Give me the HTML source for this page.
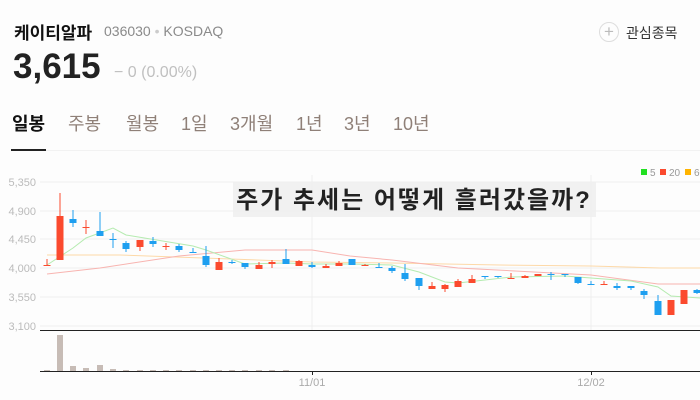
<!DOCTYPE html>
<html><head><meta charset="utf-8"><style>
body{margin:0;width:700px;height:400px;background:#fdfdfd;overflow:hidden;font-family:"Liberation Sans","Noto Sans CJK KR",sans-serif;position:relative}
.a{position:absolute;white-space:nowrap}
.t{position:absolute;top:110px;font-size:18px;color:#8f8078;white-space:nowrap}
</style></head><body>
<div class="a" style="left:14px;top:19px;font-size:17px;font-weight:bold;color:#111">케이티알파</div>
<div class="a" style="left:104px;top:23px;font-size:14px;color:#8a8a8a">036030 <span style="color:#ccc">•</span> KOSDAQ</div>
<div class="a" style="left:13px;top:47px;font-size:35px;font-weight:bold;color:#222">3,615</div>
<div class="a" style="left:114px;top:64px;font-size:16px;color:#c0c0c0">− 0 (0.00%)</div>
<div class="a" style="left:599px;top:22px;width:18px;height:18px;border:1px solid #ddd;border-radius:50%;text-align:center;line-height:18px;color:#bbb;font-size:17px">+</div>
<div class="a" style="left:626px;top:23px;font-size:14px;color:#333">관심종목</div>
<div class="t" style="left:12px;color:#111;font-weight:bold">일봉</div>
<div class="t" style="left:68px">주봉</div>
<div class="t" style="left:126px">월봉</div>
<div class="t" style="left:181px">1일</div>
<div class="t" style="left:230px">3개월</div>
<div class="t" style="left:296px">1년</div>
<div class="t" style="left:344px">3년</div>
<div class="t" style="left:393px">10년</div>
<div class="a" style="left:11px;top:149px;width:35px;height:2px;background:#222"></div>
<div class="a" style="left:46px;top:150px;width:654px;height:1px;background:#f2f2f2"></div>
<svg class="a" style="left:0;top:0" width="700" height="400" id="s"></svg>
<script>
var s='';
var g=[[182,'5,350'],[211,'4,900'],[239,'4,450'],[268,'4,000'],[297,'3,550'],[326,'3,100']];
g.forEach(function(a){s+='<line x1="40" x2="700" y1="'+a[0]+'" y2="'+a[0]+'" stroke="#eeeeee"/><text x="36" y="'+(a[0]+4)+'" font-size="11" fill="#bbb" text-anchor="end">'+a[1]+'</text>';});
s+='<line x1="312" x2="312" y1="175" y2="330" stroke="#eee"/><line x1="591" x2="591" y1="175" y2="330" stroke="#eee"/>';
s+='<line x1="40" x2="700" y1="330.5" y2="330.5" stroke="#222"/><line x1="40" x2="700" y1="371.5" y2="371.5" stroke="#222"/>';
s+='<line x1="312.5" x2="312.5" y1="371" y2="375" stroke="#222"/><line x1="591.5" x2="591.5" y1="371" y2="375" stroke="#222"/>';
s+='<text x="312" y="386" font-size="11" fill="#aaa" text-anchor="middle">11/01</text><text x="591" y="386" font-size="11" fill="#aaa" text-anchor="middle">12/02</text>';
function pl(p,c){return '<polyline fill="none" stroke="'+c+'" stroke-width="1" points="'+p+'"/>';}
s+=pl('47,255 120,255 312,262 392,263 500,265 591,266 660,268 700,268','#fdd9a8');
s+=pl('47,274 100,268 179,256 245,250 312,250 350,256 392,260 458,268 591,275 658,284 700,284','#f8b4b0');
s+=pl('47,265 73,248 86,238 113,228 126,235 193,246 206,250 245,264 286,263 312,264 352,264 392,265 419,272 445,282 458,283 485,280 511,277 565,276 591,278 631,281 658,287 671,296 700,298','#b5ebb0');
var R='#fb4a2e',B='#1e9ff0';
var c=[[47,'r',265,266,259,266],[60,'r',216,260,193,260],[73,'b',219,223,210,227],[86,'r',227,228,220,234],[100,'b',231,236,212,236],[113,'b',239,240,233,248],[126,'b',243,249,241,252],[140,'r',240,247,240,251],[153,'b',241,244,237,247],[166,'r',246,247,243,250],[179,'b',246,250,244,252],[193,'b',252,253,248,253],[206,'b',256,265,246,267],[219,'r',262,270,258,270],[232,'b',262,263,260,264],[245,'b',263,267,263,269],[259,'r',265,269,262,269],[272,'r',262,264,260,268],[286,'b',259,264,249,264],[299,'r',261,266,260,266],[312,'b',265,267,262,268],[326,'r',266,268,264,268],[339,'r',263,266,261,266],[352,'b',259,265,259,265],[365,'r',265,266,264,266],[379,'b',267,268,263,268],[392,'b',268,271,266,273],[405,'b',273,279,264,281],[419,'b',278,286,278,290],[432,'r',286,289,282,289],[445,'r',285,289,284,292],[458,'r',281,287,279,287],[472,'r',279,283,275,283],[485,'b',276,277,276,279],[498,'b',276,277,276,278],[511,'r',278,279,273,279],[525,'r',276,278,275,278],[538,'r',274,276,274,276],[551,'b',274,275,272,280],[565,'b',274,275,274,277],[578,'b',277,283,277,284],[591,'b',284,285,281,285],[604,'r',284,285,281,285],[617,'b',286,288,283,290],[631,'b',286,288,286,290],[644,'b',291,295,289,299],[658,'b',301,315,295,315],[671,'r',300,315,300,315],[684,'r',290,304,290,304],[697,'b',290,293,289,294]];
c.forEach(function(k){var col=k[1]=='r'?R:B;s+='<line x1="'+k[0]+'" x2="'+k[0]+'" y1="'+k[4]+'" y2="'+k[5]+'" stroke="'+col+'"/><rect x="'+(k[0]-3.5)+'" y="'+k[2]+'" width="7" height="'+Math.max(1,k[3]-k[2])+'" fill="'+col+'"/>';});
var v={47:370,60:335,73:366,86:368,100:365,113:369,259:370,286:370};
[47,60,73,86,100,113,126,140,153,166,179,193,206,219,232,245,259,272,286].forEach(function(x){var t=v[x]||370;s+='<rect x="'+(x-3)+'" y="'+t+'" width="6" height="'+(371-t)+'" fill="#c7bcb6"/>';});
s+='<rect x="233" y="182" width="363" height="35" fill="#efefef" opacity="0.9"/>';
s+='<text x="414" y="208" font-size="24" font-weight="bold" fill="#222" text-anchor="middle" letter-spacing="2">주가 추세는 어떻게 흘러갔을까?</text>';
s+='<rect x="641" y="169" width="6" height="6" fill="#22e022"/><text x="650" y="176" font-size="10" fill="#999">5</text>';
s+='<rect x="660" y="169" width="6" height="6" fill="#fb4a2e"/><text x="669" y="176" font-size="10" fill="#999">20</text>';
s+='<rect x="685" y="169" width="6" height="6" fill="#ffb400"/><text x="694" y="176" font-size="10" fill="#999">60</text>';
document.getElementById('s').innerHTML=s;
</script>
</body></html>
